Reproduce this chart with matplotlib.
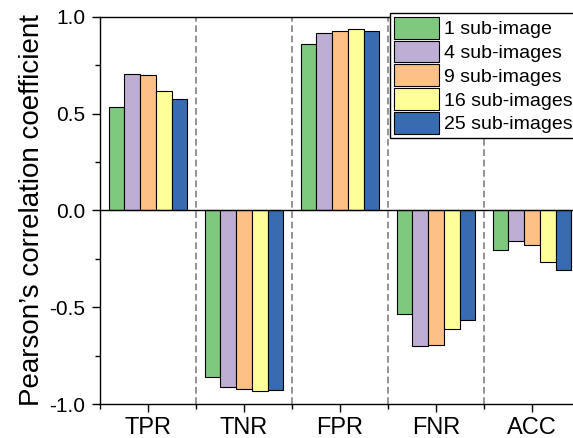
import matplotlib
matplotlib.use("Agg")
import matplotlib.pyplot as plt
import numpy as np

plt.rcParams["font.family"] = ["Liberation Sans", "DejaVu Sans"]

# data
categories = ["TPR", "TNR", "FPR", "FNR", "ACC"]
series_labels = ["1 sub-image", "4 sub-images", "9 sub-images", "16 sub-images", "25 sub-images"]
sub_1 = [0.537, -0.858, 0.863, -0.536, -0.205]
sub_4 = [0.703, -0.913, 0.915, -0.700, -0.160]
sub_9 = [0.699, -0.923, 0.927, -0.696, -0.179]
sub_16 = [0.619, -0.935, 0.937, -0.613, -0.265]
sub_25 = [0.574, -0.928, 0.930, -0.568, -0.307]
colors = ["#7fc97f", "#beaed4", "#fdc086", "#ffff99", "#386cb0"]

series = [sub_1, sub_4, sub_9, sub_16, sub_25]

fig = plt.figure(figsize=(5.73, 4.38), dpi=100)
# right edge sits just past the canvas, as in the cropped original
ax = fig.add_axes([100 / 573, 1 - 404 / 438, 480 / 573, (404 - 17) / 438])

x = np.arange(len(categories))
width = 0.164
for i, (vals, label, color) in enumerate(zip(series, series_labels, colors)):
    offset = (i - 2) * width
    ax.bar(x + offset, vals, width, color=color, edgecolor="black",
           linewidth=0.8, label=label, zorder=3)

for b in np.arange(0.5, len(categories) - 0.5, 1.0):
    ax.axvline(b, color="#808080", linestyle=(0, (4, 2.2)), linewidth=1.2, zorder=1)
ax.axhline(0, color="black", linewidth=1.0, zorder=4)

ax.set_xlim(-0.5, len(categories) - 0.5)
ax.set_ylim(-1.0, 1.0)
ax.set_yticks([-1.0, -0.5, 0.0, 0.5, 1.0])
ax.set_yticks([-0.75, -0.25, 0.25, 0.75], minor=True)
ax.set_xticks(x)
ax.set_xticks(np.arange(-0.5, len(categories), 1.0), minor=True)
ax.set_xticklabels(categories)
ax.yaxis.set_major_formatter(matplotlib.ticker.FormatStrFormatter("%.1f"))
ax.tick_params(axis="both", which="major", direction="out", length=5.5, width=1,
               color="black")
ax.tick_params(axis="y", which="major", labelsize=15, pad=5)
ax.tick_params(axis="x", which="major", labelsize=17, pad=4)
ax.tick_params(axis="both", which="minor", direction="out", length=3.5, width=1)
for s in ax.spines.values():
    s.set_linewidth(1.0)

ax.set_ylabel("Pearson\u2019s correlation coefficient", fontsize=20, labelpad=3)

ax.legend(loc="upper left", bbox_to_anchor=(390 / 573, 1 - 13 / 438),
          bbox_transform=fig.transFigure, fontsize=14, frameon=True,
          fancybox=False, edgecolor="black", framealpha=1,
          handlelength=2.3, handleheight=1.35, labelspacing=0.1,
          handletextpad=0.3, borderpad=0.2, borderaxespad=0)

fig.savefig("out.png", dpi=100)
